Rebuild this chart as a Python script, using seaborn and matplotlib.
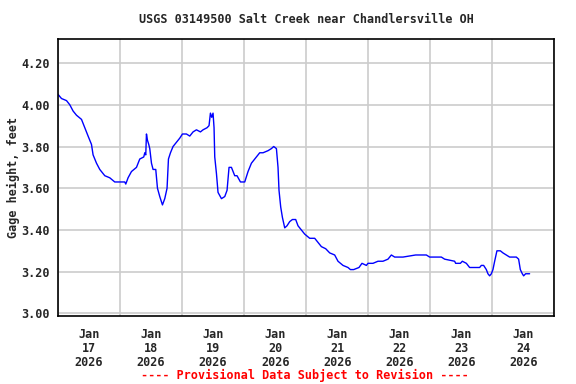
import numpy as np
import pandas as pd
import seaborn as sns
import matplotlib
matplotlib.use('Agg')
import matplotlib.pyplot as plt
import matplotlib.dates as mdates

# horas desde 2026-01-17 00:00 y altura del agua (ft)
horas = [0.0, 1.35, 3.29, 4.56, 5.84, 7.15, 9.09, 10.36, 11.64, 12.95,
         13.57, 14.89, 16.16, 18.10, 20.03, 21.96, 25.83, 26.22, 27.11, 28.42,
         30.36, 31.63, 33.18, 33.57, 33.95, 34.22, 34.61, 35.11, 35.50, 36.16,
         36.78, 37.82, 38.48, 39.37, 40.41, 41.30, 42.19, 42.73, 43.51, 44.51,
         45.83, 47.10, 48.15, 49.69, 50.97, 52.25, 53.56, 55.11, 56.11, 57.66,
         58.43, 58.97, 59.48, 59.98, 60.37, 60.64, 61.30, 61.91, 63.23, 64.51,
         65.40, 66.17, 67.10, 68.37, 69.26, 70.58, 72.24, 73.52, 74.83, 76.11,
         78.04, 79.32, 81.25, 82.56, 83.45, 84.50, 85.12, 85.50, 86.16, 86.82,
         87.71, 88.60, 89.64, 90.69, 91.96, 92.85, 94.17, 95.44, 97.38, 99.31,
         100.59, 101.90, 103.56, 105.11, 107.04, 108.32, 110.26, 112.19, 113.12, 114.39,
         116.44, 117.60, 119.30, 119.92, 121.86, 123.79, 125.72, 127.66, 128.97, 130.25,
         133.46, 138.37, 142.51, 143.78, 148.31, 149.58, 153.45, 153.84, 155.66, 156.43,
         157.98, 159.25, 163.12, 163.78, 164.67, 165.71, 166.33, 166.99, 167.65, 168.27,
         168.93, 169.81, 171.13, 172.14, 173.45, 174.72, 177.31, 178.20, 178.86, 179.63,
         180.14, 180.91, 181.41, 182.45]
altura = [4.05, 4.03, 4.02, 4.00, 3.97, 3.95, 3.93, 3.89, 3.85, 3.81,
          3.76, 3.72, 3.69, 3.66, 3.65, 3.63, 3.63, 3.62, 3.65, 3.68,
          3.70, 3.74, 3.75, 3.77, 3.76, 3.86, 3.83, 3.81, 3.79, 3.72,
          3.69, 3.69, 3.60, 3.56, 3.52, 3.55, 3.60, 3.74, 3.77, 3.80,
          3.82, 3.84, 3.86, 3.86, 3.85, 3.87, 3.88, 3.87, 3.88, 3.89,
          3.90, 3.96, 3.94, 3.96, 3.89, 3.75, 3.67, 3.58, 3.55, 3.56,
          3.59, 3.70, 3.70, 3.66, 3.66, 3.63, 3.63, 3.68, 3.72, 3.74,
          3.77, 3.77, 3.78, 3.79, 3.80, 3.79, 3.70, 3.59, 3.51, 3.46,
          3.41, 3.42, 3.44, 3.45, 3.45, 3.42, 3.40, 3.38, 3.36, 3.36,
          3.34, 3.32, 3.31, 3.29, 3.28, 3.25, 3.23, 3.22, 3.21, 3.21,
          3.22, 3.24, 3.23, 3.24, 3.24, 3.25, 3.25, 3.26, 3.28, 3.27,
          3.27, 3.28, 3.28, 3.27, 3.27, 3.26, 3.25, 3.24, 3.24, 3.25,
          3.24, 3.22, 3.22, 3.23, 3.23, 3.21, 3.19, 3.18, 3.19, 3.21,
          3.25, 3.30, 3.30, 3.29, 3.28, 3.27, 3.27, 3.26, 3.21, 3.19,
          3.18, 3.19, 3.19, 3.19]

inicio = pd.Timestamp('2026-01-17 00:00')
df = pd.DataFrame({'fecha': inicio + pd.to_timedelta(horas, unit='h'),
                   'altura': altura})

sns.set_style('white')
plt.rcParams['font.family'] = ['DejaVu Sans Mono']
plt.rcParams['font.weight'] = 'bold'

fig = plt.figure(figsize=(5.76, 3.84), dpi=100)
ax = fig.add_axes([0.1007, 0.1779, 0.8616, 0.7198])

sns.lineplot(data=df, x='fecha', y='altura', ax=ax, color='#0000ff',
             linewidth=1.0)

ax.set_xlim(inicio, inicio + pd.Timedelta(days=8))
ax.set_ylim(2.989, 4.314)

# etiquetas a mediodia, rejilla a medianoche
ax.xaxis.set_major_locator(mdates.HourLocator(byhour=[12]))
ax.xaxis.set_major_formatter(mdates.DateFormatter('%b\n%d\n%Y'))
ax.xaxis.set_minor_locator(mdates.DayLocator())
ax.set_yticks([3.0, 3.2, 3.4, 3.6, 3.8, 4.0, 4.2])
ax.set_yticklabels(['%.2f' % v for v in [3.0, 3.2, 3.4, 3.6, 3.8, 4.0, 4.2]])

ax.grid(False)
ax.grid(True, which='minor', axis='x', color='#cccccc', linewidth=1.2)
ax.grid(True, which='major', axis='y', color='#cccccc', linewidth=1.2)
ax.set_axisbelow(True)

ax.tick_params(axis='both', which='both', length=0, labelsize=8.5)
ax.tick_params(axis='x', pad=9)
ax.tick_params(axis='y', pad=6)
for lbl in ax.get_xticklabels():
    lbl.set_linespacing(1.1)

for s in ax.spines.values():
    s.set_color('black')
    s.set_linewidth(1.2)

ax.set_xlabel('')
ax.set_ylabel('Gage height, feet', fontsize=8.5, fontweight='bold', labelpad=1)
ax.set_title('USGS 03149500 Salt Creek near Chandlersville OH', fontsize=8.5,
             fontweight='bold', pad=12)

fig.text(0.53, 0.013, '---- Provisional Data Subject to Revision ----',
         color='#ff0000', fontsize=8.5, fontweight='bold', ha='center')

fig.savefig('out.png', dpi=100)
